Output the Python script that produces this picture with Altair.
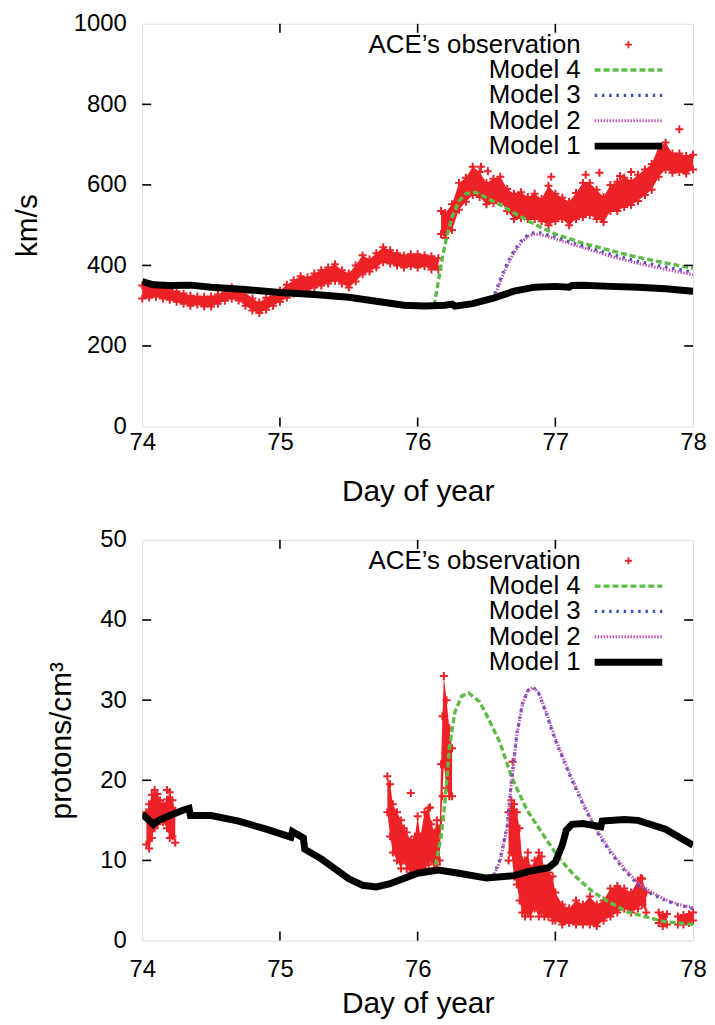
import altair as alt
import pandas as pd

FONT = "Liberation Sans"
RED = "#ec2227"
GREEN = "#5dbb46"
BLUE = "#3d55b2"
MAGENTA = "#c453b5"

X_TICKS = [74, 75, 76, 77, 78]
TOP_Y_TICKS = [0, 200, 400, 600, 800, 1000]
BOT_Y_TICKS = [0, 10, 20, 30, 40, 50]
LEGEND_LABELS = ["ACE\u2019s observation", "Model 4", "Model 3", "Model 2", "Model 1"]

# ---------------- Top panel: solar wind speed (km/s) ----------------
TOP_ACE_DAY = [74.00, 74.05, 74.10, 74.15, 74.20, 74.25, 74.30, 74.35, 74.40, 74.45,
               74.50, 74.55, 74.60, 74.65, 74.70, 74.75, 74.80, 74.85, 74.90, 74.95,
               75.00, 75.05, 75.10, 75.15, 75.20, 75.25, 75.30, 75.35, 75.40, 75.45,
               75.50, 75.55, 75.60, 75.65, 75.70, 75.75, 75.80, 75.85, 75.90, 75.95,
               76.00, 76.05, 76.10, 76.15,
               76.17, 76.20, 76.25, 76.30, 76.35, 76.40, 76.45, 76.50, 76.55, 76.60,
               76.65, 76.70, 76.75, 76.80, 76.85, 76.90, 76.95, 77.00, 77.05, 77.10,
               77.15, 77.20, 77.25, 77.30, 77.35, 77.40, 77.45, 77.50, 77.55, 77.60,
               77.65, 77.70, 77.75, 77.80, 77.85, 77.90, 77.95, 78.00]
TOP_ACE_LO = [318, 320, 322, 318, 315, 310, 305, 300, 303, 298,
              298, 305, 312, 318, 313, 300, 288, 282, 290, 300,
              310, 320, 330, 338, 335, 345, 350, 355, 362, 355,
              345, 360, 378, 385, 395, 408, 405, 400, 395, 398,
              395, 398, 390, 390,
              478, 468, 488, 538, 558, 575, 570, 552, 555, 560,
              535, 515, 518, 515, 515, 510, 500, 510, 515, 500,
              515, 520, 525, 515, 508, 535, 535, 545, 550, 560,
              575, 588, 620, 638, 630, 632, 628, 638]
TOP_ACE_HI = [350, 347, 345, 342, 340, 335, 330, 325, 323, 322,
              323, 328, 338, 345, 338, 332, 318, 308, 320, 328,
              338, 352, 363, 373, 370, 380, 388, 395, 403, 388,
              380, 400, 425, 415, 430, 445, 438, 430, 425, 428,
              428, 425, 423, 418,
              535, 530, 552, 605, 618, 645, 632, 605, 615, 620,
              590, 578, 582, 570, 578, 565, 598, 578, 568, 558,
              580, 605, 605, 588, 570, 600, 608, 618, 610, 625,
              638, 652, 695, 705, 678, 678, 672, 675]
TOP_ACE_SEG = [0] * 44 + [1] * 38
TOP_SPIKE_DAY = [76.46, 76.51, 76.97, 77.22, 77.32, 77.47, 77.55, 77.90]
TOP_SPIKE_V = [645, 634, 620, 625, 630, 622, 632, 738]

TOP_M1_DAY = [74.00, 74.05, 74.08, 74.20, 74.35, 74.50, 74.75, 75.00, 75.25, 75.50,
              75.70, 75.90, 76.05, 76.20, 76.25, 76.27, 76.40, 76.55, 76.70, 76.85,
              77.00, 77.10, 77.12, 77.20, 77.40, 77.60, 77.80, 78.00]
TOP_M1_V = [360, 355, 352, 350, 351, 346, 340, 333, 328, 321,
            311, 301, 299, 301, 304, 299, 305, 319, 336, 346,
            348, 346, 350, 351, 348, 346, 342, 336]
TOP_M4_DAY = [76.12, 76.15, 76.18, 76.21, 76.25, 76.30, 76.35, 76.42, 76.50, 76.60,
              76.70, 76.85, 77.00, 77.20, 77.40, 77.60, 77.80, 78.00]
TOP_M4_V = [300, 360, 420, 470, 520, 560, 578, 582, 568, 550,
            530, 502, 478, 455, 437, 420, 406, 393]
TOP_M3_DAY = [76.56, 76.60, 76.65, 76.70, 76.75, 76.80, 76.85, 76.90, 77.00, 77.20,
              77.40, 77.60, 77.80, 78.00]
TOP_M3_V = [330, 365, 405, 437, 460, 476, 482, 480, 470, 448,
            428, 410, 396, 383]
TOP_M2_DAY = [76.56, 76.60, 76.65, 76.70, 76.75, 76.80, 76.85, 76.90, 77.00, 77.20,
              77.40, 77.60, 77.80, 78.00]
TOP_M2_V = [325, 360, 400, 432, 456, 472, 478, 476, 466, 444,
            423, 405, 390, 377]

# ---------------- Bottom panel: proton density ----------------
BOT_ACE_DAY = [74.03, 74.05, 74.07, 74.09, 74.11, 74.13, 74.15, 74.18, 74.20, 74.22, 74.24,
               75.78, 75.80, 75.82, 75.85, 75.88, 75.90, 75.92, 75.95, 75.98, 76.00,
               76.02, 76.05, 76.08, 76.10, 76.12, 76.14, 76.16, 76.17, 76.18, 76.19,
               76.21, 76.23, 76.25,
               76.66, 76.68, 76.70, 76.72, 76.74, 76.76, 76.78, 76.80, 76.82, 76.85,
               76.88, 76.90, 76.92, 76.95, 76.98, 77.00, 77.05, 77.10, 77.15, 77.20,
               77.25, 77.30, 77.35, 77.40, 77.45, 77.50, 77.55, 77.60, 77.63, 77.66,
               77.75, 77.78, 77.81,
               77.89, 77.93, 77.97, 78.00]
BOT_ACE_LO = [12.0, 11.5, 12.8, 14.0, 14.5, 15.0, 14.8, 14.0, 12.8, 13.0, 12.2,
              16.0, 13.0, 11.0, 10.0, 9.0, 10.0, 9.0, 8.5, 8.5, 8.5,
              9.0, 9.0, 9.5, 10.0, 9.0, 9.5, 10.0, 15.0, 18.0, 22.0,
              19.0, 18.0, 18.0,
              10.0, 11.0, 8.0, 7.0, 5.0, 3.5, 3.0, 3.5, 3.0, 4.0,
              3.0, 3.5, 3.0, 3.0, 2.5, 2.5, 2.0, 2.2, 2.0, 2.0,
              2.0, 1.8, 2.5, 3.0, 3.5, 4.0, 3.5, 4.0, 4.5, 3.5,
              2.2, 1.8, 2.0,
              2.0, 2.0, 2.2, 2.5]
BOT_ACE_HI = [16.0, 17.0, 18.2, 18.8, 18.3, 17.5, 17.0, 17.6, 18.5, 17.5, 16.2,
              20.5, 19.5, 17.0, 16.0, 15.0, 14.0, 13.5, 12.5, 13.0, 15.5,
              13.0, 16.0, 16.5, 14.5, 13.5, 15.0, 14.0, 22.0, 28.0, 33.0,
              30.0, 26.5, 24.0,
              16.0, 17.5, 17.0, 16.0, 14.0, 10.0, 10.0, 11.0, 9.0, 10.0,
              11.0, 10.5, 9.0, 8.5, 8.0, 6.0, 4.5, 4.0, 5.0, 4.5,
              5.5, 4.5, 5.0, 6.5, 6.8, 6.5, 6.0, 7.5, 7.7, 6.0,
              3.5, 3.2, 3.3,
              3.0, 3.2, 3.3, 3.5]
BOT_ACE_SEG = [0] * 11 + [1] * 23 + [2] * 30 + [3] * 3 + [4] * 4
BOT_SPIKE_DAY = [74.18, 75.95, 76.09, 76.69, 77.62]
BOT_SPIKE_V = [18.8, 18.4, 16.6, 22.3, 7.8]

BOT_M1_DAY = [74.00, 74.05, 74.08, 74.12, 74.20, 74.30, 74.34, 74.35, 74.50, 74.70,
              74.90, 75.08, 75.09, 75.15, 75.17, 75.18, 75.30, 75.50, 75.60, 75.70,
              75.80, 76.00, 76.15, 76.30, 76.50, 76.70, 76.80, 76.95, 77.00, 77.05,
              77.08, 77.12, 77.20, 77.33, 77.34, 77.50, 77.60, 77.80, 78.00]
BOT_M1_V = [15.8, 15.0, 14.5, 15.0, 15.6, 16.3, 16.5, 15.6, 15.6, 14.9,
            13.9, 12.9, 13.6, 13.0, 12.8, 11.4, 10.2, 7.7, 6.9, 6.7,
            7.1, 8.4, 8.8, 8.4, 7.8, 8.1, 8.6, 9.1, 9.8, 11.9,
            13.8, 14.5, 14.6, 14.2, 14.9, 15.1, 15.0, 13.9, 11.9]
BOT_M4_DAY = [76.13, 76.17, 76.20, 76.23, 76.27, 76.32, 76.37, 76.45, 76.52, 76.60,
              76.68, 76.79, 76.90, 77.03, 77.14, 77.27, 77.38, 77.52, 77.65, 77.78, 78.00]
BOT_M4_V = [9.4, 13.0, 17.6, 24.0, 28.5, 30.5, 30.9, 29.8, 27.5, 24.6,
            20.5, 16.4, 13.5, 10.2, 8.1, 6.1, 4.9, 3.6, 3.0, 2.4, 2.0]
BOT_M3_DAY = [76.55, 76.60, 76.65, 76.68, 76.72, 76.76, 76.80, 76.84, 76.88, 76.93,
              77.00, 77.10, 77.20, 77.30, 77.40, 77.50, 77.60, 77.70, 77.80, 77.90, 78.00]
BOT_M3_V = [8.1, 10.2, 14.3, 19.7, 25.8, 29.5, 31.2, 31.6, 30.8, 28.5,
            25.0, 20.8, 17.0, 13.6, 11.0, 8.8, 7.0, 5.8, 5.0, 4.4, 4.0]
BOT_M2_DAY = [76.55, 76.60, 76.65, 76.68, 76.72, 76.76, 76.80, 76.84, 76.88, 76.93,
              77.00, 77.10, 77.20, 77.30, 77.40, 77.50, 77.60, 77.70, 77.80, 77.90, 78.00]
BOT_M2_V = [8.0, 10.0, 14.1, 19.5, 25.6, 29.4, 31.2, 31.6, 30.9, 28.7,
            25.2, 21.0, 17.2, 13.8, 11.2, 9.0, 7.2, 6.0, 5.1, 4.5, 4.1]

W = 554
CROSS = "M-1,0H1M0,-1V1"


def panel(H, ymax, yticks, ytitle, ace, spikes, m1, m2, m3, m4,
          y_title_pad, x_label_pad, x_title_pad):
    xs = alt.Scale(domain=[74, 78], nice=False, zero=False)
    ys = alt.Scale(domain=[0, ymax], nice=False, zero=False)
    xax = alt.Axis(values=X_TICKS, format="d", title="Day of year", ticks=False, tickSize=0,
                   domain=False, grid=False, labelFontSize=24, titleFontSize=30,
                   labelPadding=x_label_pad, titlePadding=x_title_pad, titleFontWeight="normal",
                   labelFont=FONT, titleFont=FONT, labelColor="black", titleColor="black",
                   labelFlush=False)
    yax = alt.Axis(values=yticks, format="d", title=ytitle, ticks=False, tickSize=0,
                   domain=False, grid=False, labelFontSize=24, titleFontSize=30,
                   labelPadding=16, titlePadding=y_title_pad, titleFontWeight="normal",
                   labelFont=FONT, titleFont=FONT, labelColor="black", titleColor="black",
                   labelFlush=False)
    X = alt.X("day:Q", scale=xs, axis=xax)
    Y = alt.Y("v:Q", scale=ys, axis=yax)

    day, lo, hi, seg = ace
    band_df = pd.DataFrame({"day": day, "v": lo, "hi": hi, "seg": seg})
    band = alt.Chart(band_df).mark_area(color=RED, opacity=1).encode(
        x=X, y=Y, y2="hi:Q", detail="seg:N")

    pts_df = pd.DataFrame({"day": list(day) + list(day) + list(spikes[0]),
                           "v": list(lo) + list(hi) + list(spikes[1])})
    pts = alt.Chart(pts_df).mark_point(shape=CROSS, size=64, filled=False, color=RED,
                                       strokeWidth=2, opacity=1).encode(x=X, y=Y)

    def line(data, color, width, dash=None):
        kw = dict(color=color, strokeWidth=width, clip=True)
        if dash:
            kw["strokeDash"] = dash
        return alt.Chart(pd.DataFrame({"day": data[0], "v": data[1]})).mark_line(**kw).encode(x=X, y=Y)

    l4 = line(m4, GREEN, 3.4, [6, 3])
    l3 = line(m3, BLUE, 3.2, [2.5, 4.8])
    l2 = line(m2, MAGENTA, 3.0, [1.5, 1.5])
    l1 = line(m1, "black", 7)

    # inward tick marks (gnuplot style), mirrored on all sides
    inner_y = [t for t in yticks if 0 < t < ymax]
    inner_x = [t for t in X_TICKS if 74 < t < 78]
    ty = pd.DataFrame({"v": inner_y})
    tx = pd.DataFrame({"day": inner_x})
    tick_l = alt.Chart(ty).mark_rule(color="black", strokeWidth=1.6).encode(
        y=Y, x=alt.value(0), x2=alt.value(9))
    tick_r = alt.Chart(ty).mark_rule(color="black", strokeWidth=1.6).encode(
        y=Y, x=alt.value(W - 9), x2=alt.value(W))
    tick_b = alt.Chart(tx).mark_rule(color="black", strokeWidth=1.6).encode(
        x=X, y=alt.value(H - 9), y2=alt.value(H))
    tick_t = alt.Chart(tx).mark_rule(color="black", strokeWidth=1.6).encode(
        x=X, y=alt.value(0), y2=alt.value(9))

    # key (text right-aligned, sample to its right)
    rows = [21, 46.5, 72, 97.5, 123]
    key = []
    for i, lab in enumerate(LEGEND_LABELS):
        key.append(alt.Chart(pd.DataFrame({"t": [lab]})).mark_text(
            align="right", baseline="middle", fontSize=26, font=FONT, color="black").encode(
            text="t:N", x=alt.value(441), y=alt.value(rows[i])))
    one = pd.DataFrame({"k": [0]})
    key.append(alt.Chart(one).mark_point(shape=CROSS, size=49, filled=False, color=RED,
                                         strokeWidth=1.8, opacity=1).encode(
        x=alt.value(489), y=alt.value(rows[0])))
    styles = [(GREEN, 3.4, [6, 3]), (BLUE, 3.2, [2.5, 4.8]), (MAGENTA, 3.0, [1.5, 1.5]),
              ("black", 7, None)]
    for i, (c, w, d) in enumerate(styles):
        kw = dict(color=c, strokeWidth=w)
        if d:
            kw["strokeDash"] = d
        key.append(alt.Chart(one).mark_rule(**kw).encode(
            x=alt.value(455), x2=alt.value(523), y=alt.value(rows[i + 1])))

    return alt.layer(band, pts, l4, l3, l2, l1, tick_l, tick_r, tick_b, tick_t, *key).properties(
        width=W, height=H)


top = panel(405, 1000, TOP_Y_TICKS, "km/s",
            (TOP_ACE_DAY, TOP_ACE_LO, TOP_ACE_HI, TOP_ACE_SEG),
            (TOP_SPIKE_DAY, TOP_SPIKE_V),
            (TOP_M1_DAY, TOP_M1_V), (TOP_M2_DAY, TOP_M2_V),
            (TOP_M3_DAY, TOP_M3_V), (TOP_M4_DAY, TOP_M4_V),
            y_title_pad=31, x_label_pad=4, x_title_pad=22)
bottom = panel(403, 50, BOT_Y_TICKS, "protons/cm\u00b3",
               (BOT_ACE_DAY, BOT_ACE_LO, BOT_ACE_HI, BOT_ACE_SEG),
               (BOT_SPIKE_DAY, BOT_SPIKE_V),
               (BOT_M1_DAY, BOT_M1_V), (BOT_M2_DAY, BOT_M2_V),
               (BOT_M3_DAY, BOT_M3_V), (BOT_M4_DAY, BOT_M4_V),
               y_title_pad=23, x_label_pad=17, x_title_pad=7)

chart = alt.vconcat(top, bottom, spacing=20).properties(
    padding={"left": 4, "top": 0, "right": 0, "bottom": 0}
).configure_view(stroke="black", strokeWidth=2).configure(font=FONT, background="white")

chart.save("out.html", embed_options={"renderer": "svg", "actions": False})
